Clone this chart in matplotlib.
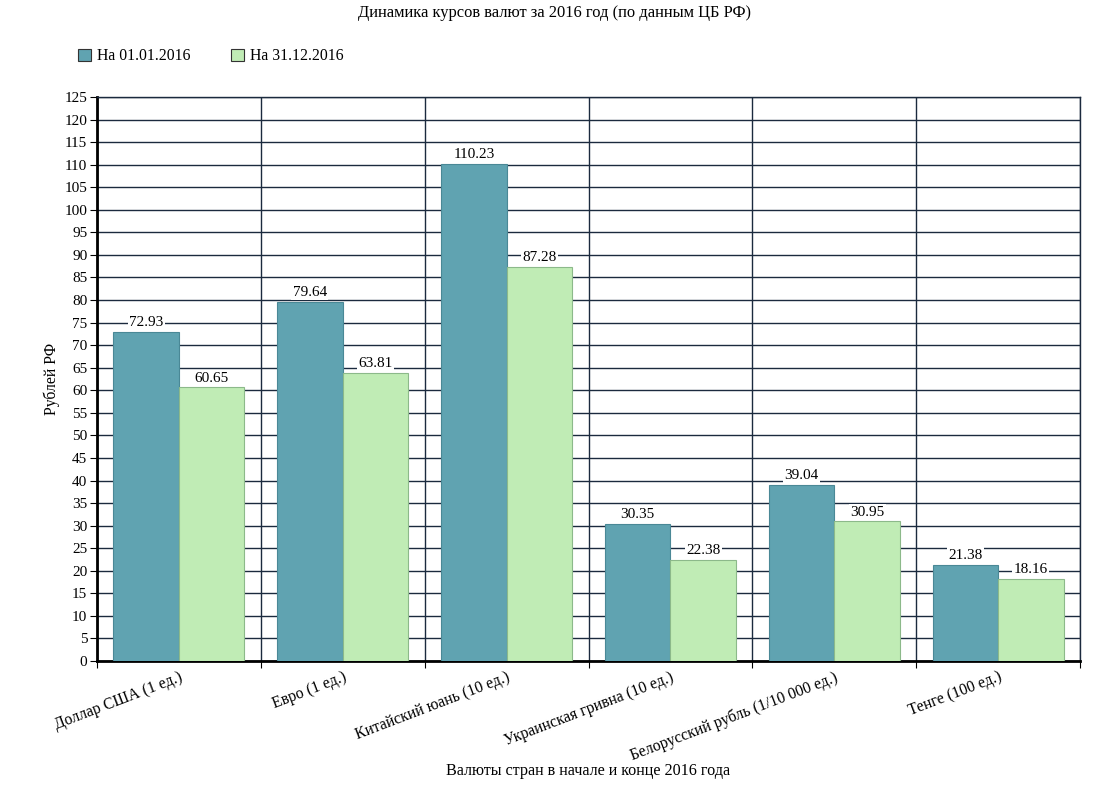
import matplotlib
matplotlib.use("Agg")
import matplotlib.pyplot as plt
from matplotlib.patches import Patch
import numpy as np

categories = ["Доллар США (1 ед.)", "Евро (1 ед.)", "Китайский юань (10 ед.)",
              "Украинская гривна (10 ед.)", "Белорусский рубль (1/10 000 ед.)", "Тенге (100 ед.)"]
start_vals = [72.93, 79.64, 110.23, 30.35, 39.04, 21.38]
end_vals = [60.65, 63.81, 87.28, 22.38, 30.95, 18.16]
series_names = ["На 01.01.2016", "На 31.12.2016"]

plt.rcParams['font.family'] = ['Liberation Serif', 'DejaVu Serif']
fig = plt.figure(figsize=(10.95, 8.05), dpi=100)
ax = fig.add_axes([97/1095, 1 - 661/805, (1080-97)/1095, (661-97)/805])

c_blue = '#60a3b1'
c_green = '#c0ecb5'
grid_c = '#1b2a3e'

x = np.arange(len(categories)) + 0.5
w = 0.4
ax.bar(x - w/2, start_vals, w, color=c_blue, edgecolor='#4a8896', linewidth=0.8, zorder=3)
ax.bar(x + w/2, end_vals, w, color=c_green, edgecolor='#8cb98a', linewidth=0.8, zorder=3)

for xi, v in zip(x - w/2, start_vals):
    ax.text(xi, v + 0.6, f"{v:.2f}", ha='center', va='bottom', fontsize=11, zorder=4,
            bbox=dict(facecolor='white', edgecolor='none', pad=1))
for xi, v in zip(x + w/2, end_vals):
    ax.text(xi, v + 0.6, f"{v:.2f}", ha='center', va='bottom', fontsize=11, zorder=4,
            bbox=dict(facecolor='white', edgecolor='none', pad=1))

ax.set_xlim(0, len(categories))
ax.set_ylim(0, 125)
ax.set_yticks(np.arange(0, 126, 5))
ax.set_xticks(np.arange(0, len(categories) + 1))
ax.set_xticklabels([])
for xi, lab in zip(x, categories):
    ax.text(xi, -1.8, lab, rotation=21, ha='right', va='top', rotation_mode='anchor',
            fontsize=11.3, transform=ax.transData)

ax.grid(True, color=grid_c, linewidth=1, zorder=0)
ax.set_axisbelow(True)
for s in ['top', 'right']:
    ax.spines[s].set_color(grid_c)
    ax.spines[s].set_linewidth(1)
for s in ['left', 'bottom']:
    ax.spines[s].set_color('black')
    ax.spines[s].set_linewidth(2)
ax.tick_params(axis='both', labelsize=11, length=5, color='black', pad=2)

ax.set_ylabel("Рублей РФ", fontsize=11.3, labelpad=3)
fig.text(588/1095, 1 - 771/805, "Валюты стран в начале и конце 2016 года", ha='center', va='center', fontsize=11.6)
fig.text(554/1095, 1 - 13/805, "Динамика курсов валют за 2016 год (по данным ЦБ РФ)", ha='center', va='center', fontsize=11.9)

handles = [Patch(facecolor=c_blue, edgecolor='#333333', linewidth=0.8),
           Patch(facecolor=c_green, edgecolor='#333333', linewidth=0.8)]
fig.legend(handles, series_names, loc='center left', bbox_to_anchor=(64/1095, 1 - 56/805),
           ncol=2, frameon=False, fontsize=11.3, handlelength=0.8, handleheight=0.8,
           handletextpad=0.4, columnspacing=2.6)

fig.savefig("out.png", dpi=100)
